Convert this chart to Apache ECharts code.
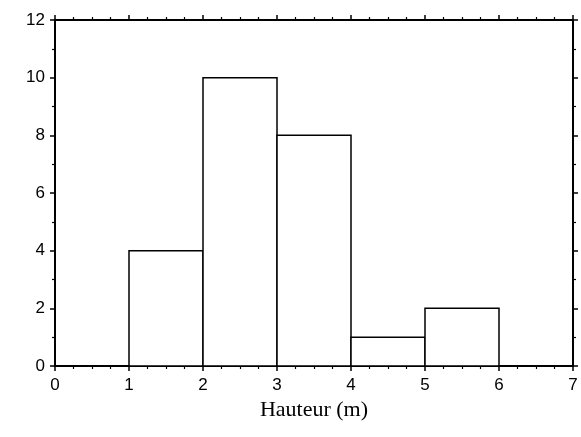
<!DOCTYPE html>
<html>
<head>
<meta charset="utf-8">
<script src="https://cdn.jsdelivr.net/npm/echarts@6/dist/echarts.min.js"></script>
<style>
  html, body { margin: 0; padding: 0; background: #fff; }
  #main { width: 581px; height: 437px; }
</style>
</head>
<body>
<div id="main"></div>
<script>
// histogram bins (m) and counts
const binStart = [1, 2, 3, 4, 5];
const binEnd = [2, 3, 4, 5, 6];
const counts = [4, 10, 8, 1, 2];

const xTicks = [0, 1, 2, 3, 4, 5, 6, 7];
const yTicks = [0, 2, 4, 6, 8, 10, 12];

let myChart = echarts.init(document.getElementById('main'));

const axisLine = { show: true, onZero: false, lineStyle: { color: '#000', width: 2 } };
const tick = { show: true, inside: false, length: 5, lineStyle: { color: '#000', width: 1.5 } };
const minor = { show: true, length: 3, lineStyle: { color: '#000', width: 1.2 } };

myChart.setOption({
  animation: false,
  grid: { left: 55, right: 8, top: 20, bottom: 71 },
  xAxis: [
    {
      type: 'value', min: xTicks[0], max: xTicks[xTicks.length - 1], interval: 1,
      name: 'Hauteur (m)', nameLocation: 'middle', nameGap: 29,
      nameTextStyle: { fontFamily: 'Liberation Serif', fontSize: 22, color: '#000' },
      axisLine: axisLine, axisTick: tick,
      minorTick: Object.assign({ splitNumber: 4 }, minor),
      axisLabel: { margin: 11, fontFamily: 'Liberation Sans', fontSize: 17, color: '#000' },
      splitLine: { show: false }
    },
    {
      type: 'value', position: 'top', min: 0, max: 7, interval: 1,
      axisLine: axisLine, axisTick: tick,
      minorTick: Object.assign({ splitNumber: 4 }, minor),
      axisLabel: { show: false }, splitLine: { show: false }
    }
  ],
  yAxis: [
    {
      type: 'value', min: yTicks[0], max: yTicks[yTicks.length - 1], interval: 2,
      axisLine: axisLine, axisTick: tick,
      minorTick: Object.assign({ splitNumber: 2 }, minor),
      axisLabel: { margin: 10, fontFamily: 'Liberation Sans', fontSize: 17, color: '#000' },
      splitLine: { show: false }
    },
    {
      type: 'value', position: 'right', min: 0, max: 12, interval: 2,
      axisLine: axisLine, axisTick: tick,
      minorTick: Object.assign({ splitNumber: 2 }, minor),
      axisLabel: { show: false }, splitLine: { show: false }
    }
  ],
  series: [{
    type: 'custom',
    xAxisIndex: 0, yAxisIndex: 0,
    data: counts.map((c, i) => [binStart[i], binEnd[i], c]),
    renderItem: function (params, api) {
      const p0 = api.coord([api.value(0), 0]);
      const p1 = api.coord([api.value(1), api.value(2)]);
      return {
        type: 'rect',
        shape: { x: p0[0], y: p1[1], width: p1[0] - p0[0], height: p0[1] - p1[1] },
        style: { fill: '#fff', stroke: '#000', lineWidth: 1.5 }
      };
    }
  }]
});
</script>
</body>
</html>
